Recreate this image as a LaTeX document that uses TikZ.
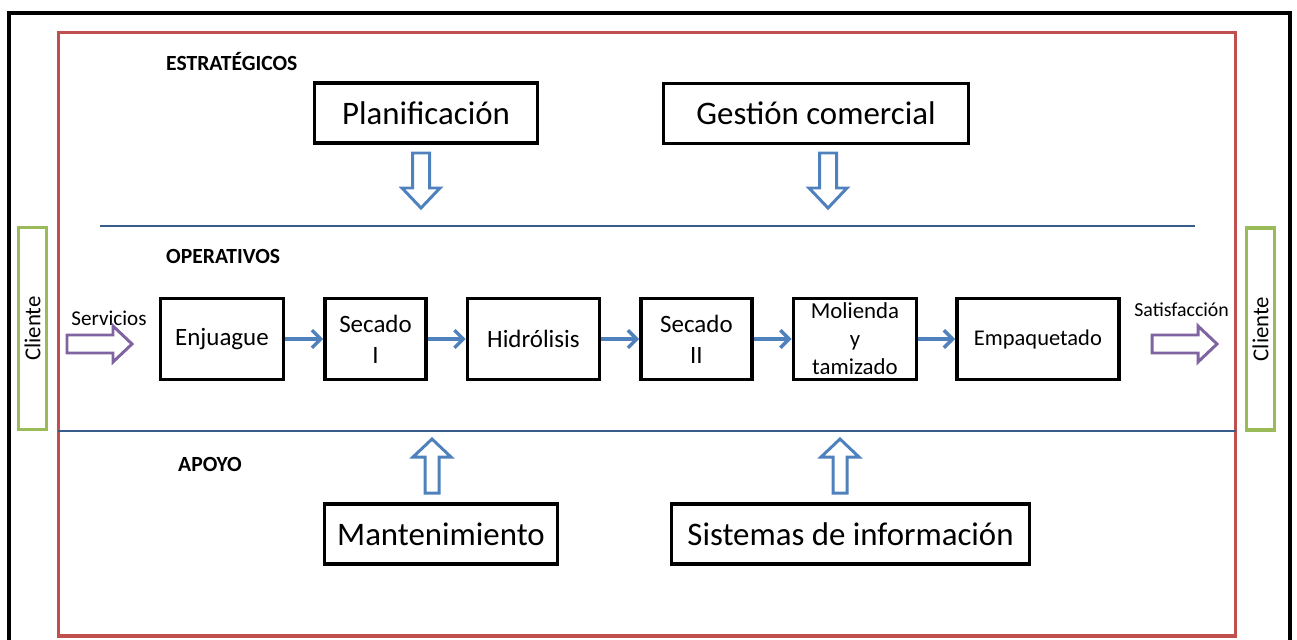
\documentclass[tikz,border=0pt]{standalone}
\usepackage{fontspec}
\setmainfont{Carlito}
\usetikzlibrary{arrows.meta,positioning}
\definecolor{rojo}{RGB}{192,80,77}
\definecolor{verde}{RGB}{155,187,89}
\definecolor{azul}{RGB}{79,129,189}
\definecolor{azuloscuro}{RGB}{56,93,138}
\definecolor{morado}{RGB}{128,100,162}
\tikzset{
  flechabaja/.pic={
    \path[pic actions] (-8.5,0) -- (8.5,0) -- (8.5,35) -- (19,35) -- (0,55)
      -- (-19,35) -- (-8.5,35) -- cycle;
  },
  flechasube/.pic={
    \path[pic actions] (-7,0) -- (7,0) -- (7,-36) -- (19,-36) -- (0,-54)
      -- (-19,-36) -- (-7,-36) -- cycle;
  },
  flechader/.pic={
    \path[pic actions] (0,-9) -- (46,-9) -- (46,-18) -- (65,0) -- (46,18)
      -- (46,9) -- (0,9) -- cycle;
  },
}

\begin{document}
\begin{tikzpicture}[
        x=0.02cm,y=-0.02cm,
        caja/.style={
          draw,line width=2pt,
          align=center,
          inner sep=1pt
        },
        grande/.style={caja,font=\fontsize{18.7}{22}\selectfont,minimum height=1.2cm},
        proceso/.style={caja,minimum height=1.62cm,font=\fontsize{14.2}{17.6}\selectfont},
        cliente/.style={
          draw=verde,line width=1.8pt,rotate=90,
          minimum width=4.04cm,minimum height=0.56cm,
          inner sep=0pt,font=\fontsize{13}{15}\selectfont
        },
        nivel/.style={anchor=west,font=\fontsize{12.3}{14}\selectfont\bfseries},
        conector/.style={-{Straight Barb[length=5pt,width=10pt]},line width=2pt,draw=azul},
        hueca/.style={draw=azul,line width=1.7pt},
        huecamorada/.style={draw=morado,line width=1.7pt},
        separador/.style={draw=azuloscuro,line width=0.8pt},
      ]
      \useasboundingbox (0,0) rectangle (1297,639);

      % marcos
      \draw[line width=2.4pt] (9,650) -- (9,13) -- (1290,13) -- (1290,650);
      \draw[rojo,line width=1.9pt] (58.5,32.5) rectangle (1235.5,636);
      \draw[separador] (100,226) -- (1195,226);
      \draw[separador] (58,431) -- (1236,431);

      % clientes
      \node[cliente] (clienteizq) at (32.5,328.5) {Cliente};
      \node[cliente] (clienteder) at (1260.5,329) {Cliente};

      % niveles
      \node[nivel] (estrategicos) at (160,61) {ESTRATÉGICOS};
      \node[nivel] (operativos) at (160,256) {OPERATIVOS};
      \node[nivel] (apoyo) at (172,464) {APOYO};

      % estrategicos
      \node[grande,minimum width=4.46cm] (planificacion) at (426,113) {Planificación};
      \node[grande,minimum width=6.1cm] (gestion) at (816,113.5) {Gestión comercial};
      \pic[hueca] at (421,153) {flechabaja};
      \pic[hueca] at (828,153) {flechabaja};

      % operativos
      \node[proceso,minimum width=2.46cm] (enjuague) at (222,339) {Enjuague};
      \node[proceso,minimum width=2.02cm,right=0.76cm of enjuague] (secadoI) {Secado\\I};
      \node[proceso,minimum width=2.64cm,right=0.76cm of secadoI] (hidrolisis) {Hidrólisis};
      \node[proceso,minimum width=2.22cm,right=0.76cm of hidrolisis] (secadoII) {Secado\\II};
      \node[proceso,minimum width=2.46cm,right=0.76cm of secadoII,
            font=\fontsize{13}{16}\selectfont] (molienda) {Molienda\\y\\tamizado};
      \node[proceso,minimum width=3.24cm,right=0.74cm of molienda,
            font=\fontsize{12.8}{15}\selectfont] (empaquetado) {Empaquetado};

      \draw[conector] (enjuague) -- (secadoI);
      \draw[conector] (secadoI) -- (hidrolisis);
      \draw[conector] (hidrolisis) -- (secadoII);
      \draw[conector] (secadoII) -- (molienda);
      \draw[conector] (molienda) -- (empaquetado);

      \node[anchor=west,inner sep=0pt,font=\fontsize{12}{14}\selectfont] (servicios) at (71,318) {Servicios};
      \node[anchor=west,inner sep=0pt,font=\fontsize{11.3}{13}\selectfont] (satisfaccion) at (1134,310) {Satisfacción};
      \pic[huecamorada] at (67,344) {flechader};
      \pic[huecamorada] at (1152,344) {flechader};

      % apoyo
      \pic[hueca] at (432,493) {flechasube};
      \pic[hueca] at (840,493) {flechasube};
      \node[grande,minimum width=4.66cm] (mantenimiento) at (441,534) {Mantenimiento};
      \node[grande,minimum width=7.16cm] (sistemas) at (850.5,534) {Sistemas de información};
    \end{tikzpicture}
\end{document}
